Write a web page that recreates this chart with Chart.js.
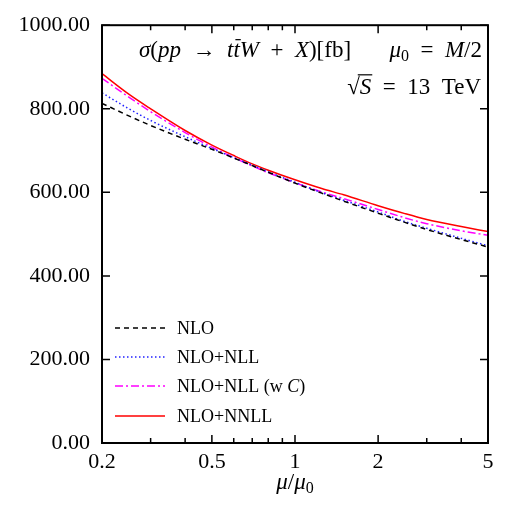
<!DOCTYPE html>
<html>
<head>
<meta charset="utf-8">
<script src="https://cdn.jsdelivr.net/npm/chart.js@4/dist/chart.umd.min.js"></script>
<style>
  html, body { margin: 0; padding: 0; background: #fff; }
</style>
</head>
<body>
<canvas id="chart" width="519" height="505"></canvas>
<script>
// scale ratio mu/mu0
const MU = [0.2, 0.25, 0.3, 0.4, 0.5, 0.6, 0.7, 0.8, 1, 1.25, 1.5, 2, 2.5, 3, 4, 5];

// cross sections in fb
const NLO       = [813, 783, 760, 727, 703, 682, 664, 648, 622, 598, 579, 550, 528, 511, 487, 469];
const NLO_NLL   = [838, 800, 772, 733, 705, 683, 665, 649, 624, 599, 581, 553, 530, 514, 490, 472];
const NLO_NLL_C = [873, 828, 793, 743, 708, 683, 663, 647, 623, 601, 585, 559, 539, 525, 508, 497];
const NLO_NNLL  = [884, 835, 800, 748, 713, 688, 668, 653, 630, 609, 594, 568, 549, 535, 518, 506];

const X_TICKS = [0.2, 0.5, 1, 2, 5];
const X_MINOR = [0.3, 0.4, 0.6, 0.7, 0.8, 0.9, 3, 4];
const Y_TICKS = [0, 200, 400, 600, 800, 1000];

const SERIF = '"Liberation Serif", "DejaVu Serif", serif';
const SP = '\u2002';

function fontOf(s, size) {
  return (s.i ? 'italic ' : '') + (s.size || size) + 'px ' + SERIF;
}

// draw a line of mixed roman / italic text
function rich(ctx, segs, x, y, align, size) {
  let w = 0;
  segs.forEach(s => { ctx.font = fontOf(s, size); w += ctx.measureText(s.t).width; });
  let cx = align === 'right' ? x - w : align === 'center' ? x - w / 2 : x;
  ctx.textAlign = 'left';
  ctx.textBaseline = 'alphabetic';
  segs.forEach(s => {
    ctx.font = fontOf(s, size);
    const sw = ctx.measureText(s.t).width;
    ctx.fillText(s.t, cx, y + (s.dy || 0));
    if (s.bar) {
      ctx.fillRect(cx + 2, y - size * 0.78, sw - 1, 1.2);
    }
    if (s.over) {
      ctx.fillRect(cx - 2, y - size * 0.86, sw + 3, 1.2);
    }
    cx += sw;
  });
}

const frame = {
  id: 'frame',
  afterDatasetsDraw(chart) {
    const { ctx, chartArea: a, scales: { x, y } } = chart;
    ctx.save();
    ctx.strokeStyle = '#000';
    ctx.lineWidth = 1.5;
    ctx.beginPath();
    X_TICKS.forEach(v => {
      const px = x.getPixelForValue(v);
      ctx.moveTo(px, a.bottom); ctx.lineTo(px, a.bottom - 8);
      ctx.moveTo(px, a.top); ctx.lineTo(px, a.top + 8);
    });
    X_MINOR.forEach(v => {
      const px = x.getPixelForValue(v);
      ctx.moveTo(px, a.bottom); ctx.lineTo(px, a.bottom - 5);
      ctx.moveTo(px, a.top); ctx.lineTo(px, a.top + 5);
    });
    Y_TICKS.forEach(v => {
      const py = y.getPixelForValue(v);
      ctx.moveTo(a.left, py); ctx.lineTo(a.left + 8, py);
      ctx.moveTo(a.right, py); ctx.lineTo(a.right - 8, py);
    });
    ctx.stroke();
    ctx.lineWidth = 2;
    ctx.strokeRect(a.left, a.top, a.right - a.left, a.bottom - a.top);
    ctx.restore();
  },
  afterDraw(chart) {
    const { ctx, chartArea: a } = chart;
    ctx.save();
    ctx.fillStyle = '#000';

    rich(ctx, [
      { t: 'σ', i: 1 }, { t: '(' }, { t: 'pp', i: 1 }, { t: SP + '→' + SP },
      { t: 't', i: 1 }, { t: 't', i: 1, bar: 1 }, { t: 'W', i: 1 }, { t: SP + '+' + SP },
      { t: 'X', i: 1 }, { t: ')[fb]' }
    ], 139, 57, 'left', 23);
    rich(ctx, [
      { t: 'μ', i: 1 }, { t: '0', size: 16, dy: 4 }, { t: SP + '=' + SP }, { t: 'M', i: 1 }, { t: '/2' }
    ], 482, 57, 'right', 23);
    rich(ctx, [
      { t: '√' }, { t: 'S', i: 1, over: 1 }, { t: SP + '=' + SP + '13' + SP + 'TeV' }
    ], 481, 94, 'right', 23);

    // x axis title
    rich(ctx, [
      { t: 'μ', i: 1 }, { t: '/' }, { t: 'μ', i: 1 }, { t: '0', size: 16, dy: 4 }
    ], (a.left + a.right) / 2, 489, 'center', 23);

    // legend
    const rowY = [328, 357, 386, 416];
    chart.data.datasets.forEach((ds, k) => {
      const ly = rowY[k];
      ctx.strokeStyle = ds.borderColor;
      ctx.lineWidth = ds.borderWidth;
      ctx.setLineDash(ds.borderDash || []);
      ctx.beginPath();
      ctx.moveTo(115, ly); ctx.lineTo(165, ly);
      ctx.stroke();
      ctx.setLineDash([]);
      const segs = ds.label.split(/(C)(?=\))/).filter(t => t).map(t => ({ t, i: t === 'C' }));
      rich(ctx, segs, 177, ly + 5.5, 'left', 18);
    });
    ctx.restore();
  }
};

const tickFont = { family: SERIF, size: 22 };

new Chart(document.getElementById('chart'), {
  type: 'line',
  data: {
    labels: MU,
    datasets: [
      { label: 'NLO', data: NLO, borderColor: '#000000', borderDash: [5, 4] },
      { label: 'NLO+NLL', data: NLO_NLL, borderColor: '#2222ff', borderDash: [1.5, 2.5] },
      { label: 'NLO+NLL (w C)', data: NLO_NLL_C, borderColor: '#ff00ff', borderDash: [8, 3, 2, 3] },
      { label: 'NLO+NNLL', data: NLO_NNLL, borderColor: '#ff0000' },
    ].map(ds => ({
      ...ds,
      data: ds.data.map((v, k) => ({ x: MU[k], y: v })),
      borderWidth: 1.5,
      pointRadius: 0,
      fill: false,
      cubicInterpolationMode: 'monotone',
    })),
  },
  options: {
    responsive: false,
    animation: false,
    layout: { padding: { top: 21, right: 31, left: 0, bottom: 0 } },
    plugins: {
      legend: { display: false },
      tooltip: { enabled: false },
    },
    scales: {
      x: {
        type: 'logarithmic',
        min: 0.2,
        max: 5,
        afterBuildTicks: s => { s.ticks = X_TICKS.map(v => ({ value: v })); },
        afterFit: s => { s.height = 62; },
        grid: { display: false, drawTicks: false },
        border: { display: false },
        ticks: {
          callback: v => String(v),
          font: tickFont,
          color: '#000',
          padding: 6,
          maxRotation: 0,
          autoSkip: false,
        },
      },
      y: {
        min: 0,
        max: 1000,
        afterFit: s => { s.width = 102; },
        grid: { display: false, drawTicks: false },
        border: { display: false },
        ticks: {
          stepSize: 200,
          callback: v => v.toFixed(2),
          font: tickFont,
          color: '#000',
          padding: 12,
        },
      },
    },
  },
  plugins: [frame],
});
</script>
</body>
</html>
